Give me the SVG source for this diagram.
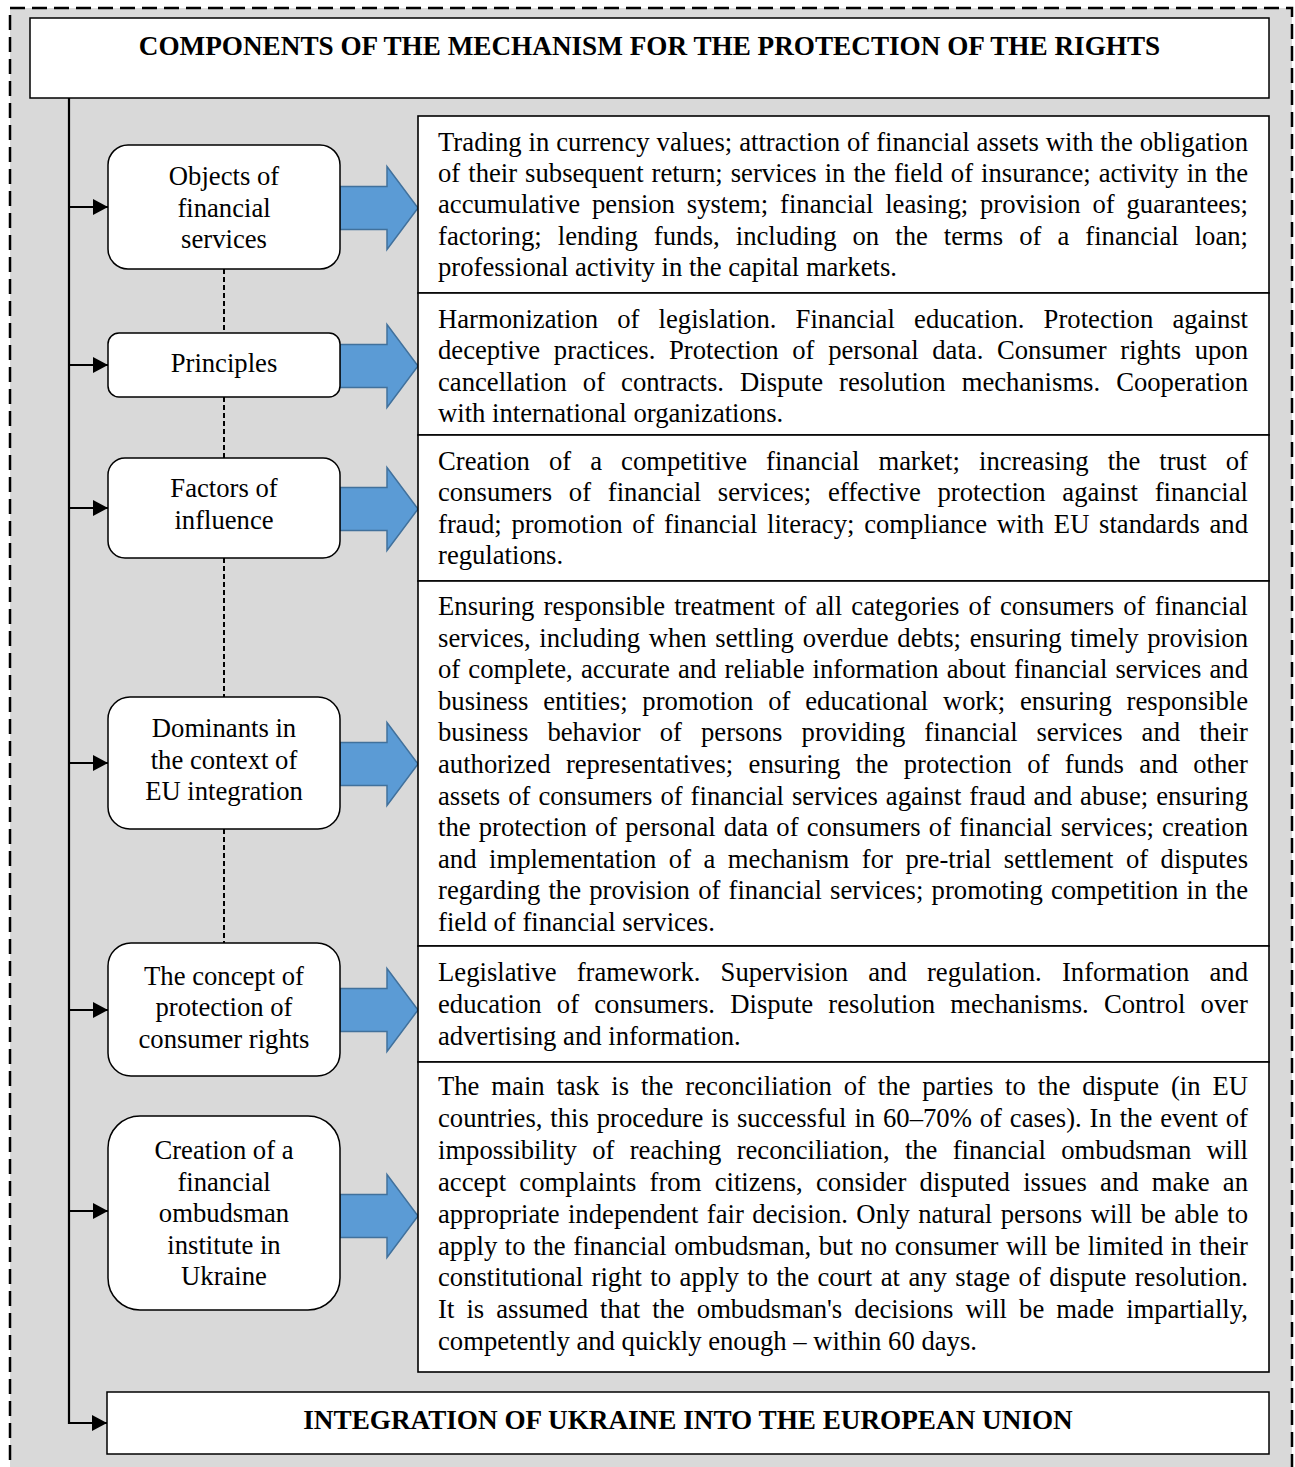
<svg xmlns="http://www.w3.org/2000/svg" width="1295" height="1467" viewBox="0 0 1295 1467">
<defs>
<style>
.t{font-family:"Liberation Serif","Times New Roman",serif;font-size:26.67px;fill:#000}
.c{text-anchor:middle}
.h{font-family:"Liberation Serif","Times New Roman",serif;font-size:27.2px;font-weight:bold;text-anchor:middle;fill:#000}
.node{fill:#fff;stroke:#000;stroke-width:1.5}
.cell{fill:#fff;stroke:#000;stroke-width:1.6}
.spine{fill:none;stroke:#000;stroke-width:2.2}
.dash{fill:none;stroke:#000;stroke-width:2;stroke-dasharray:5 3}
.blk{fill:#5B9BD5;stroke:#41719C;stroke-width:1.5}
</style>
<marker id="ah" markerUnits="userSpaceOnUse" markerWidth="15" markerHeight="16" refX="15" refY="8" orient="auto">
<path d="M0,0 L15,8 L0,16 Z" fill="#000"/>
</marker>
<path id="barrow" d="M0,-21.5 H47 V-41.5 L78,0 L47,41.5 V21.5 H0 Z"/>
<clipPath id="clip2"><rect x="418" y="293" width="851" height="135"/></clipPath>
</defs>

<rect x="10" y="8" width="1282" height="1490" fill="#D9D9D9" stroke="#000" stroke-width="2.5" stroke-dasharray="15 7"/>

<g id="title">
<rect x="30" y="18" width="1239" height="80" class="node"/>
<text x="649.5" y="55" class="h">COMPONENTS OF THE MECHANISM FOR THE PROTECTION OF THE RIGHTS</text>
</g>

<g id="connectors">
<polyline points="69,98 69,1423 107,1423" class="spine" marker-end="url(#ah)"/>
<line x1="69" y1="207" x2="108" y2="207" class="spine" marker-end="url(#ah)"/>
<line x1="69" y1="365" x2="108" y2="365" class="spine" marker-end="url(#ah)"/>
<line x1="69" y1="508" x2="108" y2="508" class="spine" marker-end="url(#ah)"/>
<line x1="69" y1="763" x2="108" y2="763" class="spine" marker-end="url(#ah)"/>
<line x1="69" y1="1010" x2="108" y2="1010" class="spine" marker-end="url(#ah)"/>
<line x1="69" y1="1211" x2="108" y2="1211" class="spine" marker-end="url(#ah)"/>
<line x1="224" y1="269" x2="224" y2="333" class="dash"/>
<line x1="224" y1="397" x2="224" y2="458" class="dash"/>
<line x1="224" y1="558" x2="224" y2="697" class="dash"/>
<line x1="224" y1="829" x2="224" y2="943" class="dash"/>
<use href="#barrow" x="340" y="208" class="blk"/>
<use href="#barrow" x="340" y="366" class="blk"/>
<use href="#barrow" x="340" y="509" class="blk"/>
<use href="#barrow" x="340" y="764" class="blk"/>
<use href="#barrow" x="340" y="1010" class="blk"/>
<use href="#barrow" x="340" y="1216" class="blk"/>
</g>

<g id="n1">
<rect x="108" y="145" width="232" height="124" rx="20" class="node"/>
<text class="t c" x="224" y="185">Objects of</text>
<text class="t c" x="224" y="216.5">financial</text>
<text class="t c" x="224" y="248">services</text>
</g>
<g id="n2">
<rect x="108" y="333" width="232" height="64" rx="11" class="node"/>
<text class="t c" x="224" y="371.5">Principles</text>
</g>
<g id="n3">
<rect x="108" y="458" width="232" height="100" rx="17" class="node"/>
<text class="t c" x="224" y="497">Factors of</text>
<text class="t c" x="224" y="528.5">influence</text>
</g>
<g id="n4">
<rect x="108" y="697" width="232" height="132" rx="22" class="node"/>
<text class="t c" x="224" y="737">Dominants in</text>
<text class="t c" x="224" y="768.5">the context of</text>
<text class="t c" x="224" y="800">EU integration</text>
</g>
<g id="n5">
<rect x="108" y="943" width="232" height="133" rx="23" class="node"/>
<text class="t c" x="224" y="985">The concept of</text>
<text class="t c" x="224" y="1016">protection of</text>
<text class="t c" x="224" y="1047.5">consumer rights</text>
</g>
<g id="n6">
<rect x="108" y="1116" width="232" height="194" rx="32" class="node"/>
<text class="t c" x="224" y="1159">Creation of a</text>
<text class="t c" x="224" y="1190.5">financial</text>
<text class="t c" x="224" y="1222">ombudsman</text>
<text class="t c" x="224" y="1253.5">institute in</text>
<text class="t c" x="224" y="1285">Ukraine</text>
</g>

<g id="d1">
<rect x="418" y="116" width="851" height="177" class="cell"/>
<text class="t" x="438" y="150.7" word-spacing="0.26" textLength="810" lengthAdjust="spacing">Trading in currency values; attraction of financial assets with the obligation</text>
<text class="t" x="438" y="182" word-spacing="1.33" textLength="810" lengthAdjust="spacing">of their subsequent return; services in the field of insurance; activity in the</text>
<text class="t" x="438" y="213.2" word-spacing="5.14" textLength="810" lengthAdjust="spacing">accumulative pension system; financial leasing; provision of guarantees;</text>
<text class="t" x="438" y="244.5" word-spacing="9.38" textLength="810" lengthAdjust="spacing">factoring; lending funds, including on the terms of a financial loan;</text>
<text class="t" x="438" y="275.7">professional activity in the capital markets.</text>
</g>
<g id="d2">
<rect x="418" y="293" width="851" height="142" class="cell"/>
<g clip-path="url(#clip2)">
<text class="t" x="438" y="328" word-spacing="12.5" textLength="810" lengthAdjust="spacing">Harmonization of legislation. Financial education. Protection against</text>
<text class="t" x="438" y="359.3" word-spacing="7" textLength="810" lengthAdjust="spacing">deceptive practices. Protection of personal data. Consumer rights upon</text>
<text class="t" x="438" y="390.5" word-spacing="9.33" textLength="810" lengthAdjust="spacing">cancellation of contracts. Dispute resolution mechanisms. Cooperation</text>
<text class="t" x="438" y="421.7">with international organizations.</text>
</g>
</g>
<g id="d3">
<rect x="418" y="435" width="851" height="146" class="cell"/>
<text class="t" x="438" y="470" word-spacing="12.4" textLength="810" lengthAdjust="spacing">Creation of a competitive financial market; increasing the trust of</text>
<text class="t" x="438" y="501.3" word-spacing="10" textLength="810" lengthAdjust="spacing">consumers of financial services; effective protection against financial</text>
<text class="t" x="438" y="532.5" word-spacing="3" textLength="810" lengthAdjust="spacing">fraud; promotion of financial literacy; compliance with EU standards and</text>
<text class="t" x="438" y="563.8">regulations.</text>
</g>
<g id="d4">
<rect x="418" y="581" width="851" height="365" class="cell"/>
<text class="t" x="438" y="615" word-spacing="2.5" textLength="810" lengthAdjust="spacing">Ensuring responsible treatment of all categories of consumers of financial</text>
<text class="t" x="438" y="646.6" word-spacing="2.1" textLength="810" lengthAdjust="spacing">services, including when settling overdue debts; ensuring timely provision</text>
<text class="t" x="438" y="678.2" word-spacing="1.46" textLength="810" lengthAdjust="spacing">of complete, accurate and reliable information about financial services and</text>
<text class="t" x="438" y="709.8" word-spacing="8.1" textLength="810" lengthAdjust="spacing">business entities; promotion of educational work; ensuring responsible</text>
<text class="t" x="438" y="741.4" word-spacing="12.4" textLength="810" lengthAdjust="spacing">business behavior of persons providing financial services and their</text>
<text class="t" x="438" y="773" word-spacing="8.7" textLength="810" lengthAdjust="spacing">authorized representatives; ensuring the protection of funds and other</text>
<text class="t" x="438" y="804.6" word-spacing="1.3" textLength="810" lengthAdjust="spacing">assets of consumers of financial services against fraud and abuse; ensuring</text>
<text class="t" x="438" y="836.2" word-spacing="1.46" textLength="810" lengthAdjust="spacing">the protection of personal data of consumers of financial services; creation</text>
<text class="t" x="438" y="867.8" word-spacing="5.8" textLength="810" lengthAdjust="spacing">and implementation of a mechanism for pre-trial settlement of disputes</text>
<text class="t" x="438" y="899.4" word-spacing="1.5" textLength="810" lengthAdjust="spacing">regarding the provision of financial services; promoting competition in the</text>
<text class="t" x="438" y="931">field of financial services.</text>
</g>
<g id="d5">
<rect x="418" y="946" width="851" height="116" class="cell"/>
<text class="t" x="438" y="981" word-spacing="13.5" textLength="810" lengthAdjust="spacing">Legislative framework. Supervision and regulation. Information and</text>
<text class="t" x="438" y="1012.8" word-spacing="8.5" textLength="810" lengthAdjust="spacing">education of consumers. Dispute resolution mechanisms. Control over</text>
<text class="t" x="438" y="1044.6">advertising and information.</text>
</g>
<g id="d6">
<rect x="418" y="1062" width="851" height="310" class="cell"/>
<text class="t" x="438" y="1095" word-spacing="5.2" textLength="810" lengthAdjust="spacing">The main task is the reconciliation of the parties to the dispute (in EU</text>
<text class="t" x="438" y="1126.9" word-spacing="1.2" textLength="810" lengthAdjust="spacing">countries, this procedure is successful in 60–70% of cases). In the event of</text>
<text class="t" x="438" y="1158.8" word-spacing="8.7" textLength="810" lengthAdjust="spacing">impossibility of reaching reconciliation, the financial ombudsman will</text>
<text class="t" x="438" y="1190.7" word-spacing="6.6" textLength="810" lengthAdjust="spacing">accept complaints from citizens, consider disputed issues and make an</text>
<text class="t" x="438" y="1222.6" word-spacing="1.8" textLength="810" lengthAdjust="spacing">appropriate independent fair decision. Only natural persons will be able to</text>
<text class="t" x="438" y="1254.5" word-spacing="0.9" textLength="810" lengthAdjust="spacing">apply to the financial ombudsman, but no consumer will be limited in their</text>
<text class="t" x="438" y="1286.4" word-spacing="1.8" textLength="810" lengthAdjust="spacing">constitutional right to apply to the court at any stage of dispute resolution.</text>
<text class="t" x="438" y="1318.3" word-spacing="5.45" textLength="810" lengthAdjust="spacing">It is assumed that the ombudsman's decisions will be made impartially,</text>
<text class="t" x="438" y="1350.2">competently and quickly enough – within 60 days.</text>
</g>

<g id="bottom">
<rect x="107" y="1392" width="1162" height="62" class="node"/>
<text x="688" y="1429" class="h">INTEGRATION OF UKRAINE INTO THE EUROPEAN UNION</text>
</g>
</svg>
